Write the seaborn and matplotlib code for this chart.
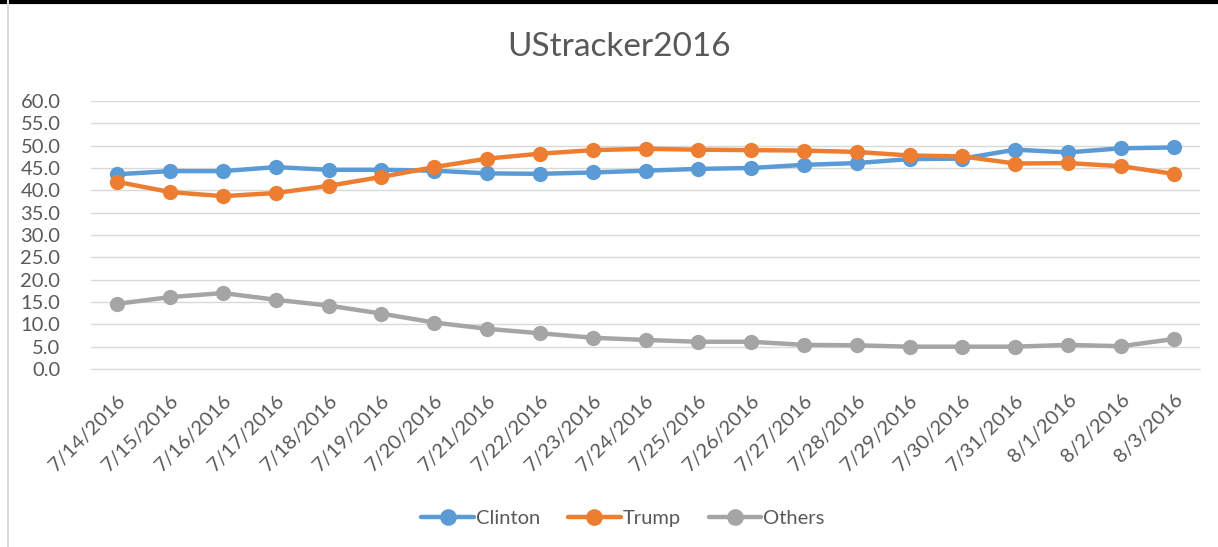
import pandas as pd
import numpy as np
import matplotlib
matplotlib.use("Agg")
import matplotlib.pyplot as plt
from matplotlib.lines import Line2D
import seaborn as sns

# Datos
fechas = ["7/14/2016", "7/15/2016", "7/16/2016", "7/17/2016", "7/18/2016",
          "7/19/2016", "7/20/2016", "7/21/2016", "7/22/2016", "7/23/2016",
          "7/24/2016", "7/25/2016", "7/26/2016", "7/27/2016", "7/28/2016",
          "7/29/2016", "7/30/2016", "7/31/2016", "8/1/2016", "8/2/2016",
          "8/3/2016"]
clinton = [43.6, 44.3, 44.3, 45.2, 44.6, 44.6, 44.4, 43.8, 43.7, 44.0, 44.4,
           44.8, 45.0, 45.7, 46.1, 47.0, 47.1, 49.1, 48.5, 49.4, 49.6]
trump = [41.9, 39.6, 38.7, 39.4, 41.0, 43.0, 45.2, 47.1, 48.2, 49.0, 49.3,
         49.1, 49.0, 48.9, 48.6, 47.8, 47.6, 46.0, 46.1, 45.4, 43.7]
others = [14.6, 16.1, 17.0, 15.5, 14.2, 12.4, 10.4, 9.0, 8.0, 7.0, 6.5,
          6.1, 6.1, 5.4, 5.3, 5.0, 5.0, 5.0, 5.4, 5.1, 6.7]
series = ["Clinton", "Trump", "Others"]
colores = ["#5B9BD5", "#ED7D31", "#A5A5A5"]

df = pd.DataFrame({"fecha": fechas, "Clinton": clinton, "Trump": trump, "Others": others})
df["x"] = np.arange(len(fechas))
largo = df.melt(id_vars=["fecha", "x"], value_vars=series, var_name="serie", value_name="valor")

sns.set_style("white")
plt.rcParams["font.family"] = ["Lato", "DejaVu Sans"]
gris = "#595959"

fig = plt.figure(figsize=(12.18, 5.47), dpi=100)
ax = fig.add_axes([91 / 1218, 1 - 369 / 547, (1200 - 91) / 1218, (369 - 101) / 547])

sns.lineplot(data=largo, x="x", y="valor", hue="serie", hue_order=series,
             palette=colores, marker="o", markersize=11, markeredgewidth=0,
             linewidth=3.2, ax=ax, legend=False)

ax.set_xlim(-0.5, len(fechas) - 0.5)
ax.set_ylim(0, 60)
ax.set_yticks(np.arange(0, 61, 5))
ax.set_yticklabels([f"{v:.1f}" for v in np.arange(0, 61, 5)], fontsize=14.5, color=gris)
ax.set_xticks(df["x"])
ax.set_xticklabels(fechas, rotation=45, ha="right", rotation_mode="anchor",
                   fontsize=14.5, color=gris)
ax.set_xticks(np.arange(-0.5, len(fechas)), minor=True)
ax.tick_params(axis="x", which="major", length=0, pad=16)
ax.tick_params(axis="x", which="minor", length=7, color="#D9D9D9", width=1)
ax.tick_params(axis="y", length=0, pad=22)
ax.grid(axis="y", color="#D9D9D9", linewidth=1)
ax.set_xlabel("")
ax.set_ylabel("")
for lado in ["top", "right", "left"]:
    ax.spines[lado].set_visible(False)
ax.spines["bottom"].set_color("#D9D9D9")

fig.text(619 / 1218, 1 - 47 / 547, "UStracker2016", ha="center", va="center",
         fontsize=24, color=gris)

manijas = [Line2D([0], [0], color=c, linewidth=3.2, marker="o", markersize=12,
                  markeredgewidth=0) for c in colores]
fig.legend(manijas, series, loc="center", bbox_to_anchor=(623 / 1218, 1 - 518 / 547),
           ncol=3, frameon=False, fontsize=14.5, handlelength=2.6,
           columnspacing=1.4, handletextpad=0.1, labelcolor=gris)

# marco estilo Excel
fig.add_artist(Line2D([0, 1], [0.997, 0.997], color="black", linewidth=3,
                      transform=fig.transFigure))
fig.add_artist(Line2D([8 / 1218, 8 / 1218], [0, 1], color="#D9D9D9", linewidth=1.5,
                      transform=fig.transFigure))

fig.savefig("out.png", dpi=100)
